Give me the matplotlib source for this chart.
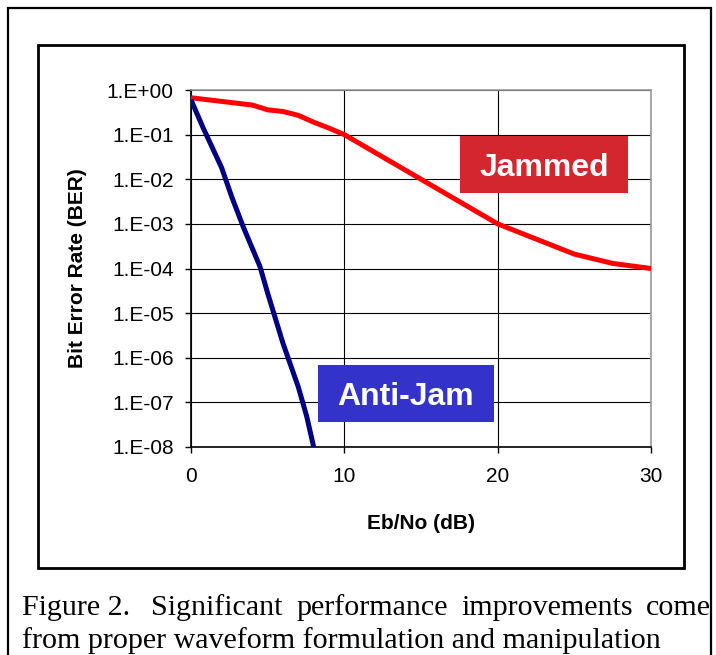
import matplotlib.pyplot as plt
from matplotlib.patches import Rectangle

# Eb/No (dB) and BER for the two curves
jam_x = [0, 4, 5, 6, 7, 8, 9, 10, 15, 20, 25, 27.5, 30]
jam_ber = [0.67, 0.46, 0.36, 0.33, 0.27, 0.19, 0.14, 0.1, 0.01, 1e-3, 2.1e-4, 1.3e-4, 1e-4]

aj_x = [0, 0.8, 2, 2.65, 3.4, 4.5, 5, 6, 7, 7.55, 8]
aj_ber = [0.6, 0.14, 0.018, 4.1e-3, 8.7e-4, 1.1e-4, 2.8e-5, 2.1e-6, 2.2e-7, 4.8e-8, 1e-8]

yticks = [1e0, 1e-1, 1e-2, 1e-3, 1e-4, 1e-5, 1e-6, 1e-7, 1e-8]
ylabels = ["1.E+00", "1.E-01", "1.E-02", "1.E-03", "1.E-04",
           "1.E-05", "1.E-06", "1.E-07", "1.E-08"]
xticks = [0, 10, 20, 30]

caption1 = ["Figure 2.", "Significant", "performance", "improvements", "come"]
caption2 = "from proper waveform formulation and manipulation"

plt.rcParams['font.family'] = 'Liberation Sans'

W, H = 716, 655
fig = plt.figure(figsize=(W / 100, H / 100), dpi=100)

# outer frame and chart frame
fig.patches.append(Rectangle((8 / W, 1 - 668 / H), 703 / W, 660 / H, transform=fig.transFigure,
                             fill=False, lw=1.6, ec='black'))
fig.patches.append(Rectangle((38 / W, 1 - 568 / H), 646 / W, 523 / H, transform=fig.transFigure,
                             fill=False, lw=2.0, ec='black'))

ax = fig.add_axes([191 / W, 1 - 447 / H, 460 / W, 357 / H])
ax.plot(jam_x, jam_ber, color='#ff0000', lw=3.6, solid_capstyle='butt', zorder=3)
ax.plot(aj_x, aj_ber, color='#000080', lw=3.6, solid_capstyle='butt', zorder=3)

ax.set_yscale('log')
ax.set_xlim(0, 30)
ax.set_ylim(1e-8, 1)
ax.set_yticks(yticks)
ax.set_yticklabels(ylabels)
ax.minorticks_off()
ax.set_xticks(xticks)
ax.tick_params(axis='both', labelsize=15, direction='out', length=4.5, width=1, color='black')
ax.tick_params(axis='y', pad=8)
ax.tick_params(axis='x', pad=10)
ax.grid(True, color='black', lw=0.8)
for s in ['top', 'right']:
    ax.spines[s].set_color('#999999')
    ax.spines[s].set_linewidth(1.2)
for s in ['left', 'bottom']:
    ax.spines[s].set_linewidth(1.2)

ax.set_xlabel("Eb/No (dB)", fontsize=15, fontweight='bold', labelpad=20)
ax.set_ylabel("Bit Error Rate (BER)", fontsize=15, fontweight='bold', labelpad=14)

# label boxes
for (x0, y0, x1, y1), txt, col in [((0.585, 0.7115, 0.95, 0.871), "Jammed", '#d4262e'),
                                   ((0.276, 0.070, 0.6587, 0.2297), "Anti-Jam", '#3333cc')]:
    ax.add_patch(Rectangle((x0, y0), x1 - x0, y1 - y0, transform=ax.transAxes,
                           fc=col, ec='none', zorder=5))
    ax.text((x0 + x1) / 2, (y0 + y1) / 2, txt, transform=ax.transAxes, fontsize=23,
            fontweight='bold', color='white', ha='center', va='center_baseline', zorder=6)

# caption, first line justified
cap_fs = 21.6
left, right = 22, 711
fig.canvas.draw()
r = fig.canvas.get_renderer()
pieces = [fig.text(0, 0, w, fontsize=cap_fs, family='Liberation Serif') for w in caption1]
widths = [p.get_window_extent(r).width for p in pieces]
sp = fig.text(0, 0, "a a", fontsize=cap_fs, family='Liberation Serif')
space_w = sp.get_window_extent(r).width - fig.text(0, 0, "aa", fontsize=cap_fs,
                                                   family='Liberation Serif').get_window_extent(r).width
for t in fig.texts[len(caption1):]:
    t.remove()
gap = (right - left - sum(widths) - space_w) / (len(caption1) - 1)
x = left
for i, (p, w) in enumerate(zip(pieces, widths)):
    p.set_position((x / W, 1 - 608 / H))
    p.set_va('center')
    x += w + gap + (space_w if i == 0 else 0)
fig.text(left / W, 1 - 641 / H, caption2, fontsize=cap_fs, family='Liberation Serif', va='center')

fig.savefig("out.png", dpi=100)
